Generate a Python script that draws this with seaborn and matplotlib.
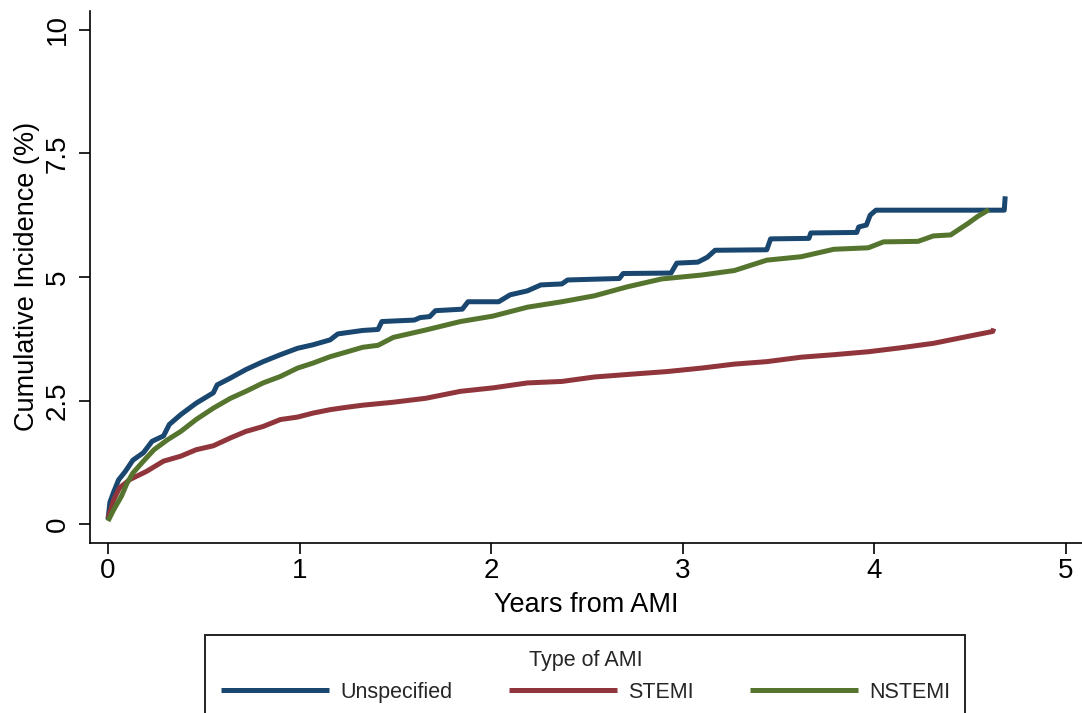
import matplotlib
matplotlib.use("Agg")
import matplotlib.pyplot as plt
from matplotlib.patches import Rectangle
import seaborn as sns
import pandas as pd

# ---- data ----
unspec_t = [0.000, 0.01, 0.03, 0.055, 0.09, 0.13, 0.185, 0.23, 0.29, 0.32, 0.38, 0.46,
            0.55, 0.57, 0.64, 0.72, 0.81, 0.90, 0.99, 1.07, 1.16, 1.20, 1.33, 1.41,
            1.43, 1.60, 1.63, 1.68, 1.71, 1.85, 1.88, 2.04, 2.10, 2.19, 2.26, 2.37,
            2.40, 2.67, 2.69, 2.94, 2.97, 3.08, 3.13, 3.17, 3.44, 3.46, 3.66, 3.67,
            3.91, 3.92, 3.96, 3.98, 4.01, 4.68, 4.685]
unspec_y = [0.10, 0.45, 0.66, 0.90, 1.07, 1.30, 1.45, 1.68, 1.79, 2.02, 2.22, 2.45,
            2.66, 2.82, 2.96, 3.13, 3.29, 3.43, 3.56, 3.63, 3.73, 3.85, 3.92, 3.94,
            4.10, 4.13, 4.18, 4.20, 4.32, 4.35, 4.50, 4.50, 4.64, 4.72, 4.84, 4.86,
            4.94, 4.97, 5.07, 5.08, 5.28, 5.30, 5.40, 5.54, 5.55, 5.77, 5.78, 5.89,
            5.90, 6.01, 6.05, 6.25, 6.35, 6.35, 6.63]

stemi_t = [0.000, 0.03, 0.06, 0.115, 0.20, 0.29, 0.38, 0.46, 0.55, 0.64, 0.72, 0.81,
           0.90, 0.99, 1.07, 1.16, 1.25, 1.33, 1.49, 1.66, 1.84, 2.01, 2.19, 2.37,
           2.54, 2.71, 2.92, 3.10, 3.27, 3.44, 3.62, 3.79, 3.97, 4.14, 4.31, 4.49,
           4.62, 4.625]
stemi_y = [0.13, 0.50, 0.74, 0.91, 1.07, 1.28, 1.38, 1.51, 1.59, 1.75, 1.88, 1.98,
           2.12, 2.17, 2.25, 2.32, 2.37, 2.41, 2.47, 2.55, 2.69, 2.76, 2.86, 2.89,
           2.98, 3.03, 3.09, 3.16, 3.24, 3.29, 3.38, 3.43, 3.49, 3.57, 3.66, 3.80,
           3.90, 3.96]

nstemi_t = [0.000, 0.03, 0.07, 0.10, 0.13, 0.185, 0.24, 0.31, 0.38, 0.46, 0.55, 0.64,
            0.72, 0.81, 0.90, 0.99, 1.07, 1.16, 1.25, 1.33, 1.41, 1.49, 1.66, 1.84,
            2.01, 2.19, 2.37, 2.54, 2.71, 2.89, 3.10, 3.27, 3.44, 3.62, 3.79, 3.97,
            4.05, 4.23, 4.31, 4.40, 4.49, 4.54, 4.60]
nstemi_y = [0.07, 0.30, 0.57, 0.84, 1.04, 1.28, 1.51, 1.71, 1.88, 2.12, 2.35, 2.55,
            2.69, 2.86, 2.99, 3.16, 3.26, 3.39, 3.49, 3.58, 3.62, 3.78, 3.93, 4.10,
            4.21, 4.39, 4.50, 4.62, 4.80, 4.96, 5.04, 5.13, 5.34, 5.41, 5.56, 5.59,
            5.71, 5.72, 5.83, 5.85, 6.08, 6.22, 6.36]

categories = ["Unspecified", "STEMI", "NSTEMI"]
colors = ["#1a476f", "#90353b", "#55752f"]
xticks = [0, 1, 2, 3, 4, 5]
yticks = [0, 2.5, 5, 7.5, 10]
ytick_labels = ["0", "2.5", "5", "7.5", "10"]

series = {
    "Unspecified": (unspec_t, unspec_y),
    "STEMI": (stemi_t, stemi_y),
    "NSTEMI": (nstemi_t, nstemi_y),
}
df = pd.concat([pd.DataFrame({"t": t, "ci": y, "type": k}) for k, (t, y) in series.items()],
               ignore_index=True)

# ---- style ----
sns.set_style("ticks")
plt.rcParams["font.family"] = ["Liberation Sans", "DejaVu Sans"]
plt.rcParams["axes.linewidth"] = 1.2

W, H = 1082, 713
fig = plt.figure(figsize=(W / 100, H / 100), dpi=100)
ax = fig.add_axes([90 / W, 1 - 542.7 / H, (W - 90) / W, (542.7 - 10.7) / H])

for cat, col in zip(categories, colors):
    sub = df[df["type"] == cat]
    sns.lineplot(data=sub, x="t", y="ci", color=col, linewidth=3.6, sort=False,
                 estimator=None, ax=ax, label=cat, solid_capstyle="butt")

ax.set_xlim(-0.094, 5.086)
ax.set_ylim(-0.368, 10.38)
ax.set_xticks(xticks)
ax.set_xticklabels([str(v) for v in xticks])
ax.set_yticks(yticks)
ax.set_yticklabels(ytick_labels)
sns.despine(ax=ax)
ax.spines["left"].set_color("black")
ax.spines["bottom"].set_color("black")

ax.tick_params(axis="both", colors="black", length=8, width=1.2, labelsize=20)
ax.tick_params(axis="x", pad=3)
ax.tick_params(axis="y", pad=6, labelrotation=90)
for lab in ax.get_yticklabels():
    lab.set_va("center")

ax.set_xlabel("Years from AMI", fontsize=19.5, color="black")
ax.set_ylabel("Cumulative Incidence (%)", fontsize=19.5, color="black")
ax.xaxis.set_label_coords(0.5, -0.092)
ax.yaxis.set_label_coords(-0.0504, 0.5)

# ---- legend ----
handles, labels = ax.get_legend_handles_labels()
if ax.get_legend() is not None:
    ax.get_legend().remove()
leg = fig.legend(handles, labels, loc="upper center",
                 bbox_to_anchor=(586 / W, (H - 639) / H), bbox_transform=fig.transFigure,
                 ncol=3, frameon=False, title="Type of AMI", fontsize=15.5,
                 title_fontsize=15.5, handlelength=5.0, handletextpad=0.55,
                 columnspacing=2.6, borderpad=0, labelspacing=0.5)
for lh in leg.get_lines():
    lh.set_linewidth(3.6)

rect = Rectangle((205 / W, -0.05), (965 - 205) / W, (H - 635) / H + 0.05,
                 transform=fig.transFigure, fill=False, edgecolor="#222222",
                 linewidth=1.4, clip_on=False)
fig.patches.append(rect)

fig.savefig("out.png", dpi=100)
